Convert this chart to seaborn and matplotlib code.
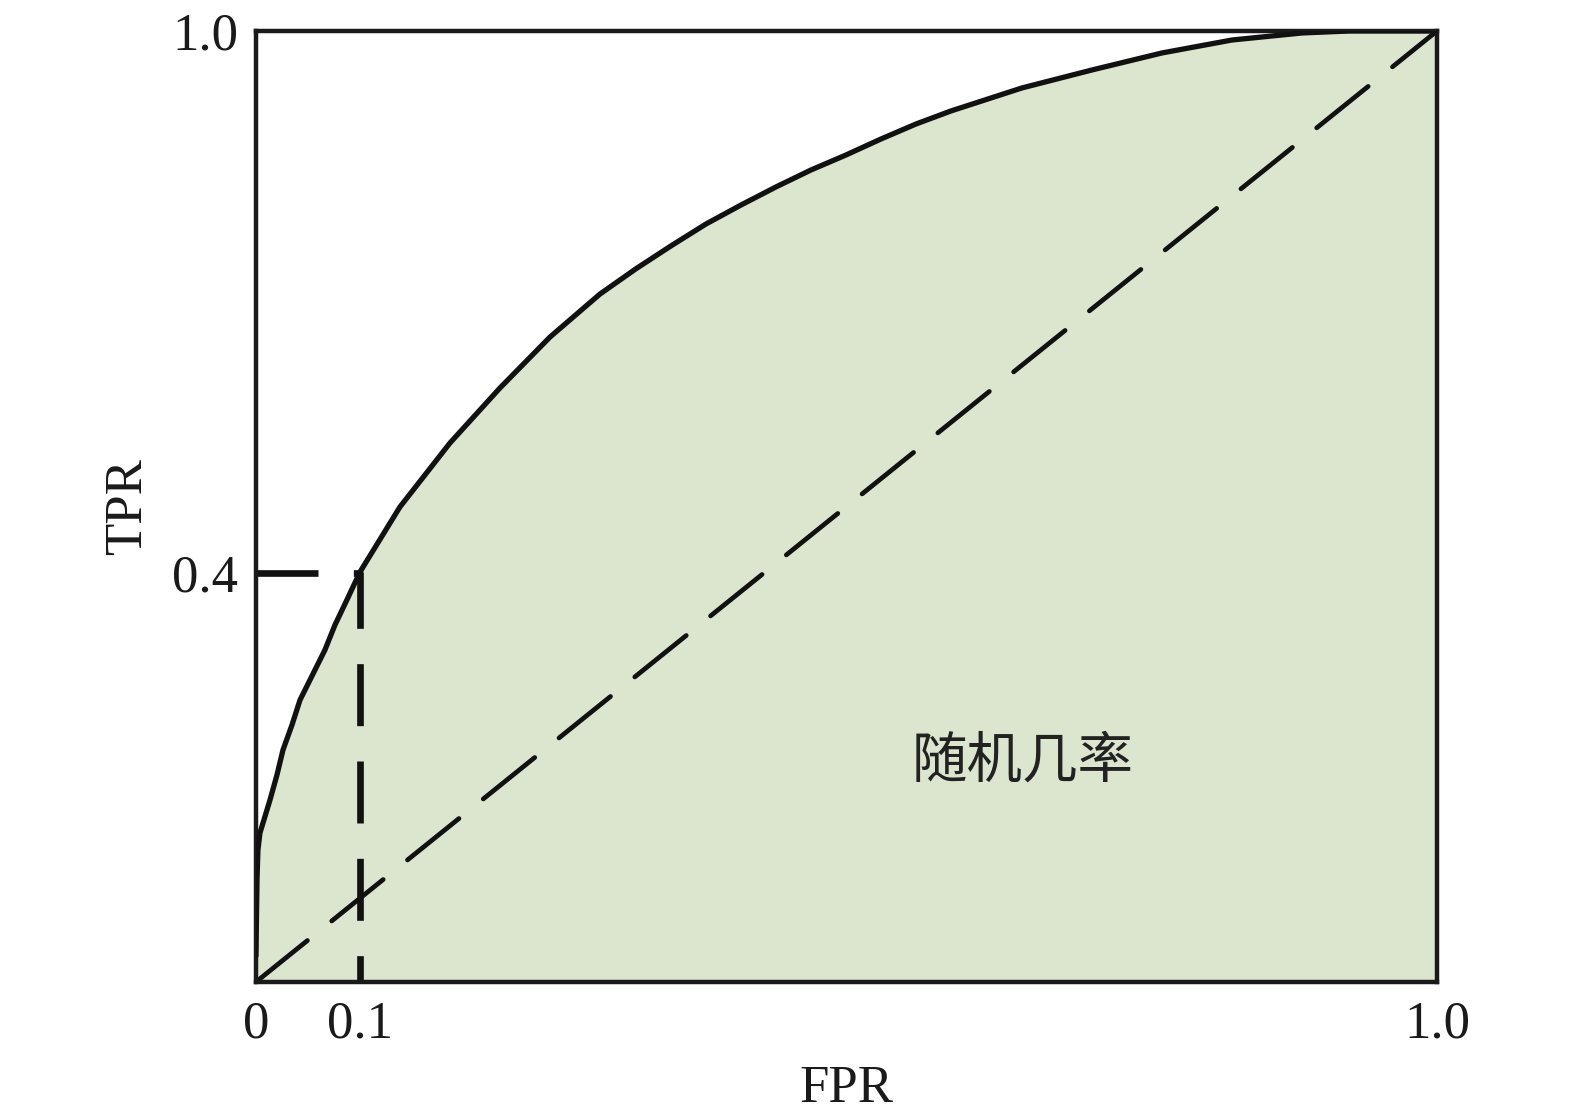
import matplotlib as mat
mat.use('Agg')
import matplotlib.pyplot as plt
import seaborn as sns
import numpy as np
import pandas as pd

# ROC curve values
fpr = [0.0, 0.0, 0.0009, 0.0017, 0.0034, 0.0119, 0.0178, 0.0229, 0.0305, 0.0373,
       0.0584, 0.0669, 0.0770, 0.0881, 0.1219, 0.1643, 0.2066, 0.2490, 0.2913,
       0.3218, 0.3514, 0.3810, 0.4107, 0.4403, 0.4699, 0.4996, 0.5292, 0.5589,
       0.5885, 0.6486, 0.7079, 0.7672, 0.8264, 0.8857, 0.9263, 1.0]
tpr = [0.0, 0.0547, 0.1073, 0.1388, 0.1567, 0.1914, 0.2177, 0.2440, 0.2702, 0.2965,
       0.3491, 0.3754, 0.4017, 0.4311, 0.4995, 0.5668, 0.6246, 0.6782, 0.7234,
       0.7500, 0.7740, 0.7970, 0.8170, 0.8360, 0.8538, 0.8696, 0.8864, 0.9022,
       0.9159, 0.9401, 0.9590, 0.9769, 0.9905, 0.9979, 1.0, 1.0]
chance_x = [0.0, 1.0]
chance_y = [0.0, 1.0]
# marked operating point (FPR 0.1, TPR 0.4), positions as drawn in the picture
op_x = 0.0881
op_y = 0.430
xtick_pos = [0.0, op_x, 1.0]
xtick_lab = ['0', '0.1', '1.0']
ytick_pos = [op_y, 1.0]
ytick_lab = ['0.4', '1.0']
note = '随机几率'

sns.set_style('white')
plt.rcParams['font.family'] = ['Liberation Serif', 'Noto Sans CJK SC', 'DejaVu Sans']

fig = plt.figure(figsize=(15.75, 11.14), dpi=100)
ax = fig.add_axes([0.1625, 0.1185, 0.7499, 0.8537])

roc = pd.DataFrame({'FPR': fpr, 'TPR': tpr})
ax.fill_between(roc['FPR'], 0, roc['TPR'], color='#dce6cf', lw=0, zorder=1)
sns.lineplot(data=roc, x='FPR', y='TPR', ax=ax, color='#111111', lw=3.8,
             sort=False, zorder=3, solid_joinstyle='round', solid_capstyle='round')
ax.plot(chance_x, chance_y, color='#111111', lw=3.4, ls=(0, (14, 6.6)),
        dash_capstyle='round', zorder=2)
ax.plot([0.0, op_x, op_x], [op_y, op_y, 0.0], color='#111111', lw=4.8,
        ls=(0, (9.3, 5.3)), zorder=2)

ax.text(0.649, 0.232, note, family=['Noto Sans CJK SC'], fontsize=40,
        color='#222222', ha='center', va='center')

ax.set_xlim(0, 1)
ax.set_ylim(0, 1)
ax.set_xticks(xtick_pos)
ax.set_xticklabels(xtick_lab)
ax.set_yticks(ytick_pos)
ax.set_yticklabels(ytick_lab)
ax.tick_params(axis='both', length=0, labelsize=38, colors='#1a1a1a', pad=13)
ax.set_xlabel('FPR', fontsize=38, color='#1a1a1a', labelpad=12)
ax.set_ylabel('TPR', fontsize=38, color='#1a1a1a', labelpad=14)
for s in ax.spines.values():
    s.set_color('#1a1a1a')
    s.set_linewidth(3.2)
    s.set_visible(True)

fig.savefig('out.png', dpi=100, facecolor='white')
